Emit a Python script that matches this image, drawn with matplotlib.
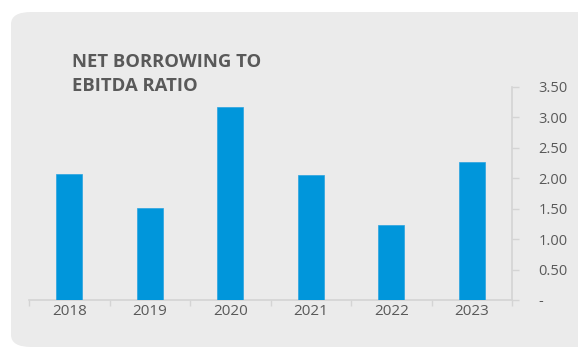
import matplotlib.pyplot as plt
from matplotlib.patches import FancyBboxPatch
import numpy as np

# chart data
years = ['2018', '2019', '2020', '2021', '2022', '2023']
ratio = [2.07, 1.51, 3.17, 2.05, 1.23, 2.26]
yticks = [0, 0.5, 1.0, 1.5, 2.0, 2.5, 3.0, 3.5]
ytick_labels = ['-', '0.50', '1.00', '1.50', '2.00', '2.50', '3.00', '3.50']

plt.rcParams['font.family'] = ['Open Sans', 'DejaVu Sans']

W, H = 578, 349
fig = plt.figure(figsize=(W / 100, H / 100), dpi=100)
fig.patch.set_facecolor('white')

# rounded grey panel behind everything
panel = FancyBboxPatch((11 / W, 2 / H), 600 / W, 335 / H,
                       boxstyle='round,pad=0,rounding_size=0.035',
                       transform=fig.transFigure, facecolor='#ebebeb',
                       edgecolor='none', zorder=-5)
fig.patches.append(panel)

# axes box in pixels: left 29, right 512, top 87 (3.5), bottom 300 (0)
ax = fig.add_axes([29 / W, (H - 300) / H, (512 - 29) / W, (300 - 87) / H])
ax.set_facecolor('none')
ax.set_zorder(2)

x = np.arange(len(years))
ax.bar(x, ratio, width=0.32, color='#0096db', edgecolor='#2aa2e0', linewidth=0.5, zorder=3)

ax.set_xlim(-0.5, len(years) - 0.5)
ax.set_ylim(0, 3.5)

# y axis on the right
ax.yaxis.tick_right()
ax.set_yticks(yticks)
ax.set_yticklabels(ytick_labels)
ax.tick_params(axis='y', direction='out', length=5, width=1, color='#d4d4d4',
               labelcolor='#595959', labelsize=10.5, pad=14)

# x ticks at category boundaries, labels at centres
ax.set_xticks(np.arange(-0.5, len(years)), minor=False)
ax.set_xticklabels([''] * (len(years) + 1))
ax.set_xticks(x, minor=True)
ax.set_xticklabels(years, minor=True)
ax.tick_params(axis='x', which='major', direction='out', length=4, width=1, color='#d4d4d4')
ax.tick_params(axis='x', which='minor', length=0, labelcolor='#595959', labelsize=11, pad=3)

for side in ['top', 'left']:
    ax.spines[side].set_visible(False)
for side in ['bottom', 'right']:
    ax.spines[side].set_color('#d4d4d4')
    ax.spines[side].set_linewidth(1.2)

fig.text(72 / W, 1 - 74 / H, 'NET BORROWING TO\nEBITDA RATIO', fontsize=13.3,
         fontweight='bold', color='#595959', va='center', ha='left', linespacing=1.45)

fig.savefig('out.png', dpi=100, facecolor='white')
